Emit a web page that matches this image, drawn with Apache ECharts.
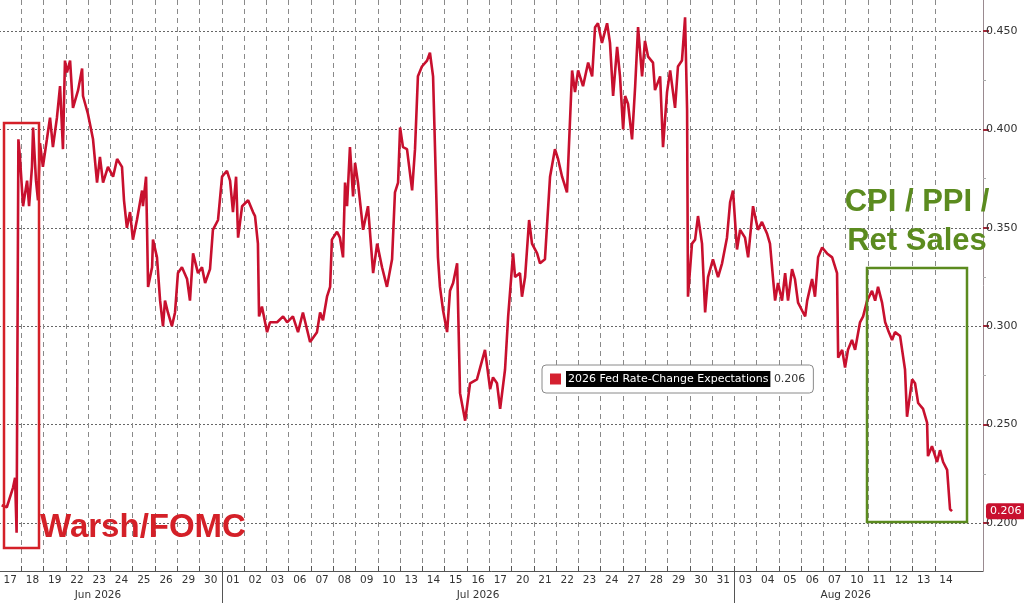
<!DOCTYPE html>
<html><head><meta charset="utf-8">
<script src="https://cdn.jsdelivr.net/npm/echarts@6/dist/echarts.min.js"></script>
<style>html,body{margin:0;padding:0;background:#fff}#c{width:1024px;height:603px}</style>
</head><body><div id="c"></div>
<script>
const junDays = ['17','18','19','22','23','24','25','26','29','30'];
const julDays = ['01','02','03','06','07','08','09','10','13','14','15','16','17','20','21','22','23','24','27','28','29','30','31'];
const augDays = ['03','04','05','06','07','10','11','12','13','14'];
const monthNames = ['Jun 2026','Jul 2026','Aug 2026'];
const yTicks = [0.200,0.250,0.300,0.350,0.400,0.450];
const seriesName = '2026 Fed Rate-Change Expectations';
// time measured in trading days from the open of Jun 17
const t = [0.12,0.35,0.63,0.72,0.79,0.87,0.94,1.08,1.26,1.35,1.48,1.53,1.66,1.75,1.84,1.97,2.15,2.29,2.42,2.60,2.74,2.87,2.96,3.05,3.19,3.32,3.55,3.73,3.77,3.99,4.22,4.40,4.53,4.67,4.89,5.12,5.30,5.52,5.61,5.74,5.88,6.01,6.19,6.42,6.46,6.60,6.64,6.69,6.87,6.91,7.09,7.23,7.36,7.45,7.58,7.76,7.90,8.03,8.21,8.44,8.57,8.71,8.93,9.11,9.25,9.47,9.60,9.83,10.01,10.23,10.37,10.50,10.64,10.73,10.91,11.18,11.40,11.49,11.62,11.67,11.80,12.03,12.16,12.48,12.75,12.93,13.19,13.42,13.64,13.96,14.27,14.41,14.54,14.72,14.86,14.94,15.17,15.30,15.44,15.53,15.62,15.75,15.89,15.98,16.11,16.34,16.56,16.79,16.97,17.19,17.41,17.64,17.77,17.91,18.00,18.13,18.31,18.54,18.67,18.80,18.98,19.21,19.34,19.48,19.70,19.79,19.93,20.11,20.24,20.38,20.56,20.69,20.92,21.14,21.45,21.81,22.04,22.17,22.35,22.49,22.71,22.85,23.07,23.16,23.38,23.47,23.61,23.79,23.92,24.15,24.28,24.50,24.73,24.95,25.09,25.27,25.49,25.72,25.85,25.99,26.21,26.44,26.62,26.75,26.88,27.06,27.29,27.42,27.56,27.74,27.87,28.01,28.10,28.23,28.41,28.55,28.68,28.86,28.99,29.13,29.35,29.44,29.67,29.80,29.98,30.12,30.34,30.47,30.65,30.79,30.88,30.92,31.10,31.24,31.37,31.55,31.69,31.82,32.04,32.27,32.45,32.67,32.81,32.94,33.12,33.26,33.48,33.62,33.84,34.06,34.24,34.47,34.60,34.74,34.83,34.96,35.14,35.28,35.41,35.59,35.72,35.86,36.04,36.18,36.27,36.49,36.62,36.76,36.94,37.16,37.39,37.61,37.66,37.84,37.97,38.10,38.28,38.42,38.64,38.78,38.96,39.18,39.32,39.45,39.63,39.77,39.90,40.08,40.21,40.44,40.66,40.75,40.98,41.11,41.25,41.47,41.65,41.69,41.87,42.10,42.23,42.37,42.55,42.68,42.77];
const rate = [0.209,0.208,0.218,0.223,0.195,0.395,0.386,0.361,0.374,0.361,0.381,0.401,0.374,0.364,0.393,0.381,0.395,0.406,0.391,0.406,0.422,0.390,0.435,0.429,0.435,0.411,0.420,0.431,0.417,0.408,0.395,0.373,0.386,0.373,0.381,0.376,0.385,0.381,0.364,0.350,0.358,0.344,0.354,0.369,0.361,0.376,0.352,0.320,0.330,0.344,0.335,0.313,0.300,0.313,0.307,0.300,0.307,0.327,0.330,0.324,0.313,0.337,0.327,0.330,0.322,0.329,0.349,0.354,0.376,0.379,0.374,0.358,0.376,0.345,0.361,0.364,0.358,0.356,0.342,0.305,0.310,0.297,0.302,0.302,0.305,0.302,0.305,0.297,0.307,0.292,0.297,0.307,0.303,0.315,0.320,0.344,0.348,0.345,0.335,0.373,0.361,0.391,0.366,0.383,0.373,0.349,0.361,0.327,0.342,0.330,0.320,0.334,0.368,0.373,0.401,0.391,0.390,0.369,0.390,0.427,0.432,0.435,0.439,0.427,0.335,0.320,0.308,0.297,0.318,0.322,0.332,0.266,0.252,0.271,0.273,0.288,0.268,0.274,0.271,0.258,0.278,0.305,0.337,0.325,0.327,0.315,0.325,0.354,0.342,0.337,0.332,0.334,0.376,0.390,0.385,0.376,0.368,0.430,0.419,0.430,0.422,0.434,0.427,0.452,0.454,0.444,0.454,0.444,0.417,0.442,0.427,0.400,0.417,0.413,0.395,0.422,0.452,0.427,0.445,0.437,0.434,0.420,0.427,0.391,0.419,0.430,0.411,0.432,0.435,0.457,0.410,0.315,0.342,0.344,0.356,0.342,0.307,0.325,0.334,0.325,0.332,0.345,0.363,0.369,0.339,0.349,0.345,0.335,0.361,0.349,0.353,0.347,0.342,0.324,0.313,0.322,0.313,0.327,0.313,0.329,0.324,0.312,0.308,0.305,0.313,0.324,0.315,0.335,0.340,0.337,0.335,0.327,0.284,0.288,0.279,0.288,0.293,0.288,0.302,0.305,0.313,0.318,0.313,0.320,0.312,0.302,0.298,0.293,0.297,0.295,0.278,0.254,0.273,0.271,0.261,0.258,0.251,0.234,0.239,0.231,0.237,0.231,0.227,0.207,0.206];

const days = junDays.concat(julDays, augDays);
const nDays = days.length;
const xMax = nDays + 1.16;
const yMin = 0.1756, yMax = 0.4658;
const dayLabelPos = days.map((_, i) => i + 0.5);
const dayBounds = [];
for (let i = 1; i < nDays; i++) dayBounds.push(i);
const b1 = junDays.length, b2 = junDays.length + julDays.length;
const monthLabelPos = [(b1 - 1.12) / 2, (b1 + b2) / 2, (b2 + nDays) / 2];
const minorTicks = yTicks.slice(0, -1).map((v, i) => (v + yTicks[i + 1]) / 2);
const last = rate[rate.length - 1];
const FONT = 'DejaVu Sans';
const RED = '#c8102e';
const GREEN = '#5b8b1f';

const chart = echarts.init(document.getElementById('c'), null, {renderer: 'canvas'});
chart.setOption({
  animation: false,
  backgroundColor: '#fff',
  grid: {left: -1, right: 41, top: 0, bottom: 32, containLabel: false, outerBoundsMode: 'none'},
  legend: {
    data: [seriesName], left: 542, top: 365, orient: 'horizontal',
    icon: 'rect', itemWidth: 11, itemHeight: 11,
    padding: [6, 8, 6, 8], backgroundColor: '#fff', borderColor: '#8a8a8a', borderWidth: 1, borderRadius: 4,
    formatter: n => '{a|' + n + '}{b| ' + last.toFixed(3) + '}',
    textStyle: {fontFamily: FONT, fontSize: 11, rich: {
      a: {backgroundColor: '#000', color: '#fff', fontFamily: FONT, fontSize: 11, padding: [3, 2, 2, 2]},
      b: {color: '#333', fontFamily: FONT, fontSize: 11}
    }}
  },
  xAxis: [
    {type: 'value', min: 0, max: xMax, position: 'bottom',
     axisLine: {show: true, onZero: false, lineStyle: {color: '#555'}},
     axisTick: {show: true, customValues: dayBounds, inside: true, length: 5, lineStyle: {color: '#555'}},
     axisLabel: {customValues: dayLabelPos, formatter: v => days[Math.floor(v)] || '', color: '#333', fontSize: 10.5, fontFamily: FONT, margin: 4},
     splitLine: {show: true, lineStyle: {color: '#8a8a8a', type: [5, 4], width: 1}}},
    {type: 'value', min: 0, max: xMax, position: 'bottom',
     axisLine: {show: false, onZero: false},
     axisTick: {show: true, customValues: [b1, b2], length: 32, lineStyle: {color: '#555'}},
     axisLabel: {customValues: monthLabelPos, formatter: v => {
        let k = 0, best = 1e9;
        monthLabelPos.forEach((p, i) => { if (Math.abs(p - v) < best) { best = Math.abs(p - v); k = i; } });
        return monthNames[k];
      }, color: '#333', fontSize: 10.5, fontFamily: FONT, margin: 19},
     splitLine: {show: false}}
  ],
  yAxis: [
    {type: 'value', position: 'right', min: yMin, max: yMax,
     axisLine: {show: true, onZero: false, lineStyle: {color: '#9a8a90'}},
     axisTick: {show: true, customValues: yTicks, length: 6, lineStyle: {color: '#a02838', width: 2}},
     axisLabel: {customValues: yTicks, formatter: v => v.toFixed(3), color: '#333', fontSize: 11, fontFamily: FONT, margin: 3},
     splitLine: {show: true, lineStyle: {color: '#666', type: [2, 2], width: 1}}},
    {type: 'value', position: 'right', min: yMin, max: yMax,
     axisLine: {show: false, onZero: false},
     axisTick: {show: true, customValues: minorTicks, length: 3, lineStyle: {color: '#aaa'}},
     axisLabel: {show: false}, splitLine: {show: false}},
    {type: 'value', position: 'right', min: yMin, max: yMax, z: 20,
     axisLine: {show: false, onZero: false},
     axisTick: {show: false},
     axisLabel: {customValues: [last], formatter: v => v.toFixed(3), color: '#fff', backgroundColor: RED,
       padding: [3, 4, 2, 4], borderRadius: 3, fontSize: 11, fontFamily: FONT, margin: 3},
     splitLine: {show: false}}
  ],
  series: [{
    type: 'line', name: seriesName, xAxisIndex: 0, yAxisIndex: 0,
    data: t.map((x, i) => [x, rate[i]]),
    showSymbol: false, symbol: 'none',
    lineStyle: {color: RED, width: 2.6},
    itemStyle: {color: '#d42030'}
  }],
  graphic: [
    {type: 'rect', shape: {x: 4, y: 123, width: 35, height: 425}, style: {fill: 'none', stroke: '#d42028', lineWidth: 2.5}, z: 100},
    {type: 'text', x: 40, y: 528, style: {text: 'Warsh/FOMC', fill: '#d42028', font: 'bold 33px "Liberation Sans", Arial, sans-serif', textAlign: 'left', textVerticalAlign: 'middle'}, z: 100},
    {type: 'rect', shape: {x: 867, y: 268, width: 100, height: 254}, style: {fill: 'none', stroke: GREEN, lineWidth: 2.5}, z: 100},
    {type: 'text', x: 917, y: 202, style: {text: 'CPI / PPI /', fill: GREEN, font: 'bold 31px "Liberation Sans", Arial, sans-serif', textAlign: 'center', textVerticalAlign: 'middle'}, z: 100},
    {type: 'text', x: 917, y: 241, style: {text: 'Ret Sales', fill: GREEN, font: 'bold 31px "Liberation Sans", Arial, sans-serif', textAlign: 'center', textVerticalAlign: 'middle'}, z: 100}
  ]
});
</script>
</body></html>
